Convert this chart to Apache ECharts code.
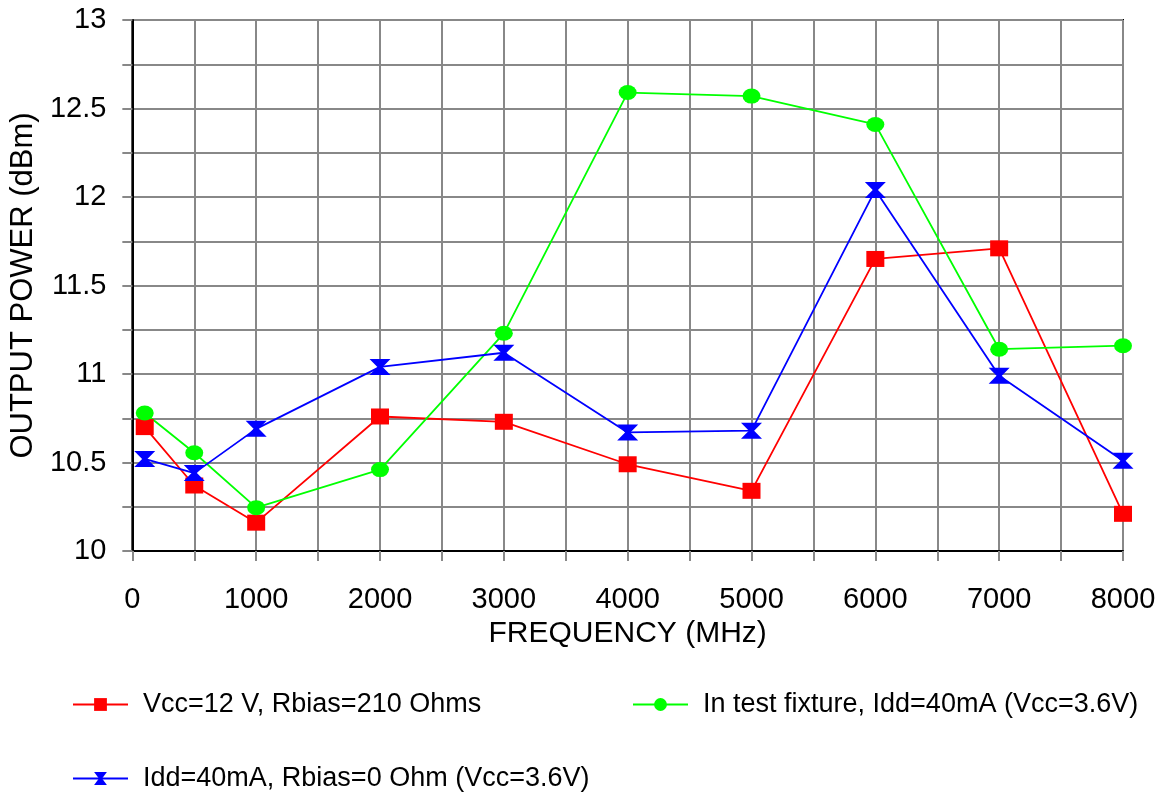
<!DOCTYPE html>
<html>
<head>
<meta charset="utf-8">
<script src="https://cdn.jsdelivr.net/npm/echarts@6/dist/echarts.min.js"></script>
<style>
html,body{margin:0;padding:0;background:#fff;}
#chart{width:1160px;height:795px;}
</style>
</head>
<body>
<div id="chart"></div>
<script>
var frequencies = [100, 500, 1000, 2000, 3000, 4000, 5000, 6000, 7000, 8000];
var seriesNames = [
  'Vcc=12 V, Rbias=210 Ohms',
  'In test fixture, Idd=40mA (Vcc=3.6V)',
  'Idd=40mA, Rbias=0 Ohm (Vcc=3.6V)'
];
var vcc12Values = [10.70, 10.37, 10.16, 10.76, 10.73, 10.49, 10.34, 11.65, 11.71, 10.21];
var fixtureValues = [10.78, 10.555, 10.245, 10.46, 11.23, 12.59, 12.57, 12.41, 11.14, 11.16];
var rbias0Values = [10.52, 10.44, 10.69, 11.04, 11.12, 10.67, 10.68, 12.04, 10.99, 10.51];
var xTickLabels = ['0', '1000', '2000', '3000', '4000', '5000', '6000', '7000', '8000'];
var yTickLabels = ['10', '10.5', '11', '11.5', '12', '12.5', '13'];

function pairs(xs, ys) { return xs.map(function (x, i) { return [x, ys[i]]; }); }

var FONT = "'Liberation Sans', Arial, sans-serif";
var chart = echarts.init(document.getElementById('chart'));
var legendText = { fontFamily: FONT, fontSize: 27, color: '#000', padding: [0, 0, 0, 10] };

chart.setOption({
  animation: false,
  backgroundColor: '#fff',
  grid: { left: 130, right: 37, top: 20, bottom: 244, show: true, borderColor: '#000', borderWidth: 2, backgroundColor: 'transparent' },
  xAxis: {
    type: 'value', min: 0, max: 8000, interval: 500,
    name: 'FREQUENCY (MHz)', nameLocation: 'middle', nameGap: 62,
    nameTextStyle: { fontFamily: FONT, fontSize: 30, color: '#000' },
    axisLine: { lineStyle: { color: '#000', width: 2 } },
    axisTick: { show: true, length: 10, lineStyle: { color: '#888', width: 2 } },
    axisLabel: {
      margin: 34, fontFamily: FONT, fontSize: 29, color: '#000',
      formatter: function (v) { var i = xTickLabels.indexOf(String(v)); return i >= 0 ? xTickLabels[i] : ''; }
    },
    splitLine: { show: true, lineStyle: { color: '#888', width: 2 } }
  },
  yAxis: {
    type: 'value', min: 10, max: 13, interval: 0.25,
    name: 'OUTPUT POWER (dBm)', nameLocation: 'middle', nameGap: 87,
    nameTextStyle: { fontFamily: FONT, fontSize: 31, color: '#000' },
    axisLine: { show: true, lineStyle: { color: '#000', width: 2 } },
    axisTick: { show: true, length: 10, lineStyle: { color: '#888', width: 2 } },
    axisLabel: {
      margin: 26, fontFamily: FONT, fontSize: 29, color: '#000',
      formatter: function (v) { var s = String(Math.round(v * 100) / 100); return yTickLabels.indexOf(s) >= 0 ? s : ''; }
    },
    splitLine: { show: true, lineStyle: { color: '#888', width: 2 } }
  },
  legend: [
    { data: [seriesNames[0]], left: 72, top: 691, padding: 0, itemWidth: 55, itemHeight: 16, selectedMode: false, textStyle: legendText },
    { data: [seriesNames[1]], left: 632, top: 691, padding: 0, itemWidth: 55, itemHeight: 16, selectedMode: false, textStyle: legendText },
    { data: [seriesNames[2]], left: 72, top: 765, padding: 0, itemWidth: 55, itemHeight: 16, selectedMode: false, textStyle: legendText }
  ],
  series: [
    {
      name: seriesNames[0], type: 'line', data: pairs(frequencies, vcc12Values),
      symbol: 'rect', symbolSize: [18, 16], showAllSymbol: true,
      lineStyle: { color: '#ff0000', width: 1.8 }, itemStyle: { color: '#ff0000' }
    },
    {
      name: seriesNames[1], type: 'line', data: pairs(frequencies, fixtureValues),
      symbol: 'circle', symbolSize: [18, 15], showAllSymbol: true,
      lineStyle: { color: '#00ff00', width: 1.8 }, itemStyle: { color: '#00ff00' }
    },
    {
      name: seriesNames[2], type: 'line', data: pairs(frequencies, rbias0Values),
      symbol: 'path://M0,0 L20,0 L12.5,8 L20,16 L0,16 L7.5,8 Z', symbolSize: [21, 16], showAllSymbol: true,
      lineStyle: { color: '#0000ff', width: 1.8 }, itemStyle: { color: '#0000ff' }
    }
  ]
});
</script>
</body>
</html>
